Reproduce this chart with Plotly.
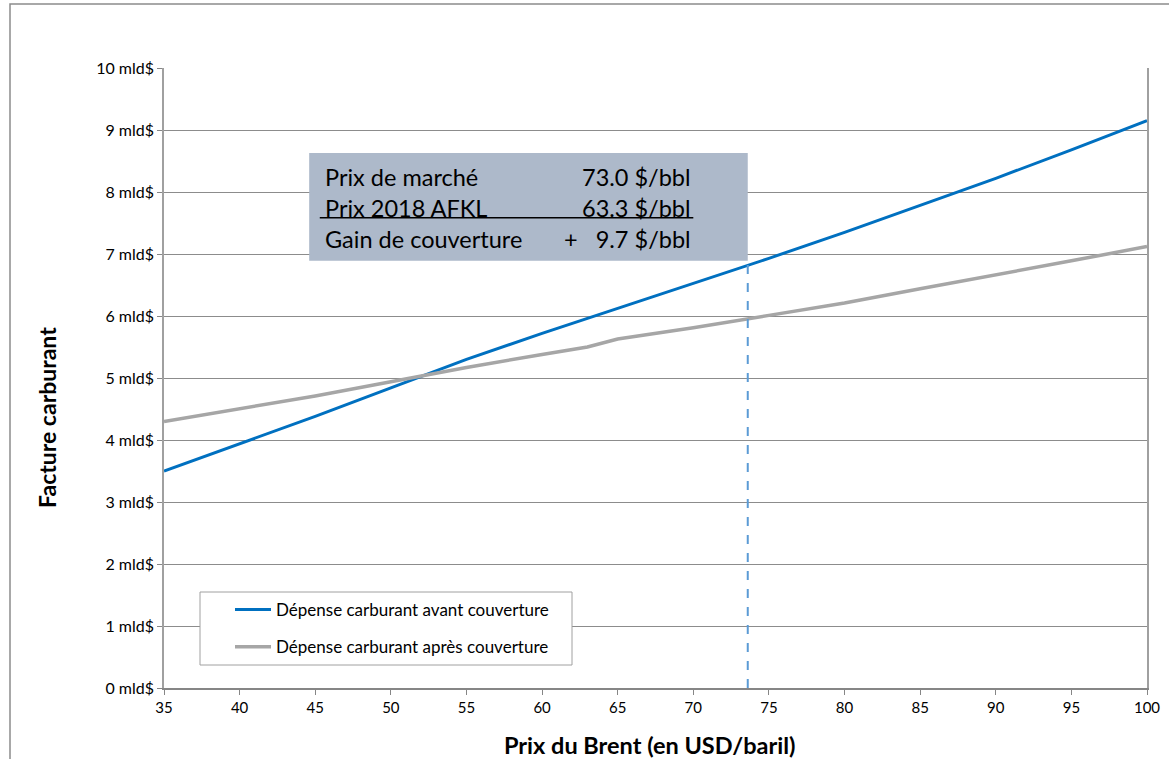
import plotly.graph_objects as go

# ---- data ----
brent = [35, 40, 45, 50, 55, 60, 63, 65, 70, 75, 80, 85, 90, 95, 100]
avant = [3.50, 3.94, 4.38, 4.84, 5.30, 5.72, 5.96, 6.12, 6.52, 6.93, 7.35, 7.78, 8.22, 8.68, 9.15]
apres = [4.30, 4.50, 4.71, 4.94, 5.17, 5.38, 5.50, 5.63, 5.81, 6.01, 6.21, 6.44, 6.66, 6.89, 7.12]
name_avant = "Dépense carburant avant couverture"
name_apres = "Dépense carburant après couverture"
x_ticks = list(range(35, 101, 5))
y_ticks = list(range(0, 11))
y_tick_labels = [f"{v} mld$" for v in y_ticks]
market_x = 73.6
market_line_top = 6.94
box_rows = [("Prix de marché", "73.0 $/bbl"),
            ("Prix 2018 AFKL", "63.3 $/bbl"),
            ("Gain de couverture", "+\u00a0\u00a0 9.7 $/bbl")]

FONT = "Lato, 'Open Sans', sans-serif"

# pixel -> paper helpers (plot area 164..1147 x, 68..688 y)
def px(xp):
    return (xp - 164) / 983

def py(yp):
    return (688 - yp) / 620

fig = go.Figure()
fig.add_trace(go.Scatter(x=brent, y=avant, mode="lines", name=name_avant,
                         line=dict(color="#0070C0", width=3), legendgroup="a"))
fig.add_trace(go.Scatter(x=brent, y=apres, mode="lines", name=name_apres,
                         line=dict(color="#A6A6A6", width=3.5), legendgroup="b"))
# dashed market line
fig.add_trace(go.Scatter(x=[market_x, market_x], y=[0, market_line_top], mode="lines",
                         line=dict(color="#5B9BD5", width=2, dash="dash"),
                         showlegend=False, hoverinfo="skip"))

shapes = []
# outer chart border
shapes.append(dict(type="rect", xref="paper", yref="paper",
                   x0=px(10), x1=1.3, y0=-0.4, y1=py(4),
                   line=dict(color="#8C8C8C", width=1.5), layer="below"))
# info box
shapes.append(dict(type="rect", xref="x", yref="y", x0=44.6, x1=market_x,
                   y0=6.89, y1=8.63, fillcolor="#ADB9CA", line=dict(width=0), layer="above"))
# underline for row 2
shapes.append(dict(type="line", xref="x", yref="y", x0=45.3, x1=70.0, y0=7.585, y1=7.585,
                   line=dict(color="black", width=1.5), layer="above"))
# legend frame
shapes.append(dict(type="rect", xref="paper", yref="paper",
                   x0=px(200), x1=px(572), y0=py(665), y1=py(592),
                   fillcolor="white", line=dict(color="#A0A0A0", width=1), layer="above"))
fig.update_layout(shapes=shapes)

row_y = [8.24, 7.74, 7.24]
for (lab, val), yy in zip(box_rows, row_y):
    fig.add_annotation(x=45.5, y=yy, xref="x", yref="y", text=lab, showarrow=False,
                       xanchor="left", yanchor="middle", font=dict(family=FONT, size=23.5, color="black"))
    fig.add_annotation(x=69.95, y=yy, xref="x", yref="y", text=val, showarrow=False,
                       xanchor="right", yanchor="middle", font=dict(family=FONT, size=23.5, color="black"))

# axis titles
fig.add_annotation(x=px(47), y=py(418), xref="paper", yref="paper",
                   text="<b>Facture carburant</b>", textangle=-90, showarrow=False,
                   xanchor="center", yanchor="middle", font=dict(family=FONT, size=23, color="black"))
fig.add_annotation(x=px(649), y=py(745), xref="paper", yref="paper",
                   text="<b>Prix du Brent (en USD/baril)</b>", showarrow=False,
                   xanchor="center", yanchor="middle", font=dict(family=FONT, size=23.5, color="black"))

fig.update_layout(
    width=1169, height=759,
    margin=dict(l=164, r=22, t=68, b=71, autoexpand=False),
    paper_bgcolor="white", plot_bgcolor="white",
    font=dict(family=FONT, size=13, color="black"),
    xaxis=dict(range=[35, 100], tickvals=x_ticks, showgrid=False, showline=True,
               linecolor="#868686", linewidth=1.5, ticks="outside", ticklen=5,
               tickcolor="#868686", zeroline=False, tickfont=dict(size=15)),
    yaxis=dict(range=[0, 10], tickvals=y_ticks, ticktext=y_tick_labels, showgrid=True,
               gridcolor="#8C8C8C", gridwidth=1, showline=True, mirror=True,
               linecolor="#A0A0A0", linewidth=1.5, ticks="outside", ticklen=5,
               tickcolor="#868686", zeroline=False, tickfont=dict(size=16)),
    legend=dict(x=px(230), y=py(592), xanchor="left", yanchor="top",
                borderwidth=0, bgcolor="rgba(0,0,0,0)",
                font=dict(family=FONT, size=17), tracegroupgap=12, itemwidth=36),
    showlegend=True,
)

fig.write_html("out.html", config={"displayModeBar": False},
               post_script="document.body.style.margin='0';document.body.style.padding='0';document.body.style.overflow='hidden';")
